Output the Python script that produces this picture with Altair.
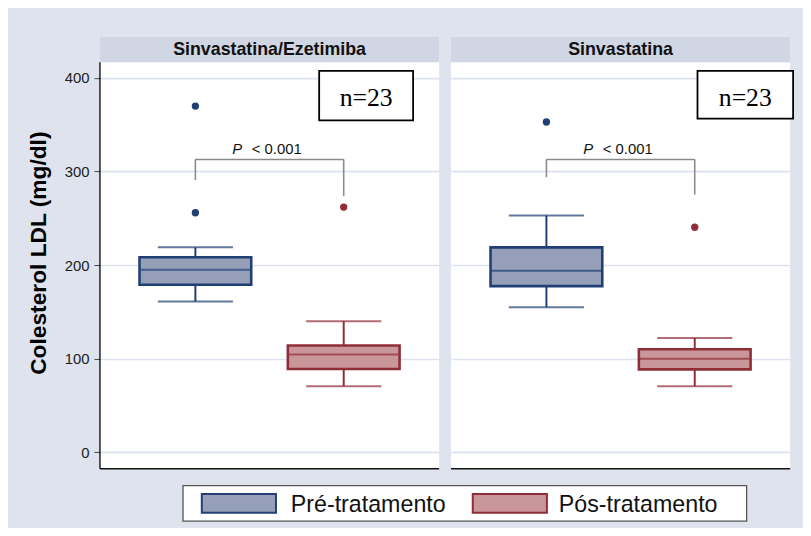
import altair as alt
import pandas as pd

# ---------------- data ----------------
panels = ["Sinvastatina/Ezetimiba", "Sinvastatina"]
groups = ["Pré-tratamento", "Pós-tratamento"]
n_values = [23, 23]

# box statistics per panel, [pre, post]
lower_whisker = [[161, 70.5], [155, 70.5]]
q1_values = [[179, 89], [177.5, 88.5]]
median_values = [[195, 104.5], [194, 100]]
q3_values = [[208.5, 114], [219, 110]]
upper_whisker = [[219, 140], [253, 122]]
outlier_values = [[[370, 256], [262]], [[353], [240.5]]]

p_labels = ["< 0.001", "< 0.001"]
bracket_top = [313, 313]
bracket_left_end = [291, 294]
bracket_right_end = [274, 275.5]

y_ticks = [0, 100, 200, 300, 400]

fill_colors = ["#959fb8", "#c99799"]
line_colors = ["#213f75", "#902e37"]

# ---------------- layout constants ----------------
W, H = 343, 437
HEADER_H = 26
Y_DOMAIN = [-17.7, 444.3]
FONT = "Liberation Sans"

fill_scale = alt.Scale(domain=groups, range=fill_colors)
line_scale = alt.Scale(domain=groups, range=line_colors)
x_scale = alt.Scale(domain=groups, paddingInner=0, paddingOuter=0.1433)
y_scale = alt.Scale(domain=Y_DOMAIN, nice=False, zero=False)

nbox_pos = [(221.7, 316.7, 34.7, 84.7), (249.3, 346.0, 34.7, 83.0)]
LEG_Y0, LEG_Y1 = 454, 490


def panel(i):
    first = i == 0
    if first:
        yaxis = alt.Axis(values=y_ticks, title="Colesterol LDL (mg/dl)", grid=True,
                         gridColor="#dce2ee", gridWidth=1.6, domain=False,
                         ticks=True, tickSize=6, tickColor="#444", tickWidth=1,
                         labelFontSize=15, labelColor="#222", labelPadding=5, labelFont=FONT,
                         titleFont=FONT, titleFontSize=23, titleFontWeight="bold",
                         titleColor="#000", titlePadding=14)
    else:
        yaxis = alt.Axis(values=y_ticks, title=None, grid=True, gridColor="#dce2ee",
                         gridWidth=1.6, domain=False, ticks=False, labels=False)

    def X(field):
        return alt.X(field, type="nominal", sort=groups, scale=x_scale, axis=None)

    def Y(field):
        return alt.Y(field, type="quantitative", scale=y_scale, axis=yaxis)

    box_df = pd.DataFrame({
        "group": groups,
        "lower": lower_whisker[i],
        "q1": q1_values[i],
        "median": median_values[i],
        "q3": q3_values[i],
        "upper": upper_whisker[i],
    })
    out_df = pd.DataFrame([{"group": g, "value": v}
                           for gi, g in enumerate(groups) for v in outlier_values[i][gi]])
    br_df = pd.DataFrame([{"from": groups[0], "to": groups[1], "top": bracket_top[i],
                           "left_end": bracket_left_end[i], "right_end": bracket_right_end[i],
                           "p": p_labels[i], "P": "P"}])
    head_df = pd.DataFrame([{"name": panels[i], "n": f"n={n_values[i]}"}])

    fill = alt.Fill("group:N", scale=fill_scale, legend=None)
    stroke = alt.Stroke("group:N", scale=line_scale, legend=None)
    color = alt.Color("group:N", scale=line_scale, legend=None)

    layers = []
    # whiskers
    layers.append(alt.Chart(box_df).mark_rule(strokeWidth=2).encode(
        x=X("group"), y=Y("lower"), y2="q1", color=color))
    layers.append(alt.Chart(box_df).mark_rule(strokeWidth=2).encode(
        x=X("group"), y=Y("q3"), y2="upper", color=color))
    # caps
    layers.append(alt.Chart(box_df).mark_tick(size=76, thickness=2).encode(
        x=X("group"), y=Y("lower"), color=color))
    layers.append(alt.Chart(box_df).mark_tick(size=76, thickness=2).encode(
        x=X("group"), y=Y("upper"), color=color))
    # boxes
    layers.append(alt.Chart(box_df).mark_bar(size=113, strokeWidth=2.6).encode(
        x=X("group"), y=Y("q1"), y2="q3", fill=fill, stroke=stroke))
    # median
    layers.append(alt.Chart(box_df).mark_tick(size=111, thickness=2).encode(
        x=X("group"), y=Y("median"), color=color))
    # outliers
    layers.append(alt.Chart(out_df).mark_circle(size=55, opacity=1).encode(
        x=X("group"), y=Y("value"), color=color))
    # bracket
    layers.append(alt.Chart(br_df).mark_rule(color="#8a8a8a", strokeWidth=1.6).encode(
        x=X("from"), x2="to", y=Y("top")))
    layers.append(alt.Chart(br_df).mark_rule(color="#8a8a8a", strokeWidth=1.6).encode(
        x=X("from"), y=Y("top"), y2="left_end"))
    layers.append(alt.Chart(br_df).mark_rule(color="#8a8a8a", strokeWidth=1.6).encode(
        x=X("to"), y=Y("top"), y2="right_end"))
    layers.append(alt.Chart(br_df).mark_text(font=FONT, fontSize=15, fontStyle="italic",
                                             align="left", baseline="alphabetic",
                                             dx=37.3, dy=-5, color="#111").encode(
        x=X("from"), y=Y("top"), text="P:N"))
    layers.append(alt.Chart(br_df).mark_text(font=FONT, fontSize=15, align="left",
                                             baseline="alphabetic", dx=57, dy=-5,
                                             color="#111").encode(
        x=X("from"), y=Y("top"), text="p:N"))
    # header band
    layers.append(alt.Chart(head_df).mark_rect(color="#d0d6e3").encode(
        x=alt.value(0), x2=alt.value(W), y=alt.value(0), y2=alt.value(HEADER_H)))
    layers.append(alt.Chart(head_df).mark_text(font=FONT, fontSize=18, fontWeight="bold",
                                               color="#111", baseline="middle").encode(
        x=alt.value(W / 2), y=alt.value(HEADER_H / 2 + 1), text="name:N"))
    # frame lines
    layers.append(alt.Chart(head_df).mark_rule(color="#111", strokeWidth=1.4).encode(
        x=alt.value(0), x2=alt.value(W), y=alt.value(H)))
    if first:
        layers.append(alt.Chart(head_df).mark_rule(color="#111", strokeWidth=1.4).encode(
            x=alt.value(0), y=alt.value(HEADER_H), y2=alt.value(H)))
    # n= box
    x0, x1, y0, y1 = nbox_pos[i]
    layers.append(alt.Chart(head_df).mark_rect(fill="white", stroke="#000", strokeWidth=1.8).encode(
        x=alt.value(x0), x2=alt.value(x1), y=alt.value(y0), y2=alt.value(y1)))
    layers.append(alt.Chart(head_df).mark_text(font="Liberation Serif", fontSize=26,
                                               color="#000", baseline="alphabetic").encode(
        x=alt.value((x0 + x1) / 2), y=alt.value(69.7), text="n:N"))

    # legend (drawn in the first panel, spanning below both panels)
    if first:
        leg_df = pd.DataFrame({"group": groups})
        layers.append(alt.Chart(head_df).mark_rect(fill="white", stroke="#555", strokeWidth=1.3).encode(
            x=alt.value(84), x2=alt.value(654), y=alt.value(LEG_Y0), y2=alt.value(LEG_Y1)))
        sw_x = [103, 377]
        tx_x = [193, 464]
        for gi, g in enumerate(groups):
            d = leg_df[leg_df["group"] == g]
            layers.append(alt.Chart(d).mark_rect(strokeWidth=2).encode(
                x=alt.value(sw_x[gi]), x2=alt.value(sw_x[gi] + 75),
                y=alt.value(LEG_Y0 + 8.5), y2=alt.value(LEG_Y0 + 27.5), fill=fill, stroke=stroke))
            layers.append(alt.Chart(d).mark_text(font=FONT, fontSize=23.5, align="left",
                                                 baseline="alphabetic", color="#111").encode(
                x=alt.value(tx_x[gi]), y=alt.value(LEG_Y0 + 27), text="group:N"))

    return alt.layer(*layers).properties(width=W, height=H)


chart = alt.hconcat(panel(0), panel(1), spacing=12, bounds="flush").properties(
    padding={"left": 19, "top": 26, "right": 9, "bottom": 3},
    background="#dee3ed",
).configure_view(stroke=None, fill="white")

chart.save("out.html", embed_options={"renderer": "svg", "actions": False})
